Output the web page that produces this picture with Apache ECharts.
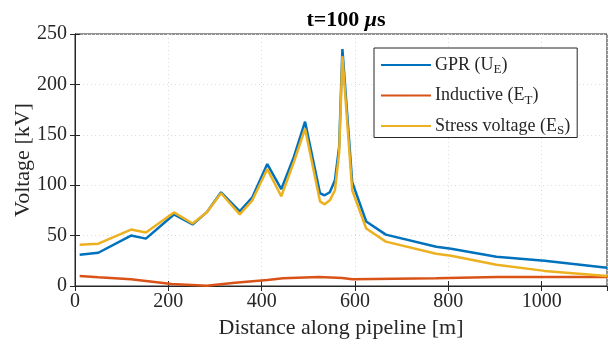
<!DOCTYPE html>
<html>
<head>
<meta charset="utf-8">
<script src="https://cdn.jsdelivr.net/npm/echarts@6/dist/echarts.min.js"></script>
<style>
  html, body { margin: 0; padding: 0; background: #fff; }
  #chart { width: 608px; height: 347px; }
</style>
</head>
<body>
<div id="chart"></div>
<script>
// distance along pipeline [m] for GPR and stress voltage
const distance = [10, 50, 120, 152, 212, 252, 282, 313, 353, 380, 412, 442, 469, 493, 525, 535, 546, 557, 566, 573, 594, 624, 666, 774, 806, 903, 1006, 1140];
const gpr = [31, 33, 50, 47, 71, 61, 73, 93, 74, 88, 121, 96, 128, 163, 92, 90, 93, 105, 138, 235, 103, 64, 51, 39, 37, 29, 25, 18];
const stress = [41, 42, 56, 53, 73, 62, 73, 92, 71, 85, 116, 89, 123, 156, 84, 81, 85, 95, 132, 228, 95, 57, 44, 32, 30, 21, 15, 10];
// inductive has its own sample points
const distanceInd = [10, 50, 120, 207, 282, 343, 412, 446, 523, 573, 594, 774, 903, 1140];
const inductive = [10, 8.6, 6.6, 2, 0.3, 3.3, 6, 7.6, 9, 8, 6.6, 7.6, 9, 9];

const FONT = '"Liberation Serif", "DejaVu Serif", serif';
const INK = '#262626';

const pairs = (xs, ys) => xs.map((x, i) => [x, ys[i]]);

const sub = {fontFamily: FONT, fontSize: 13, color: INK, padding: [10, 0, 0, 0]};

const chart = echarts.init(document.getElementById('chart'));

const gridLine = {show: true, lineStyle: {color: '#dcdcdc', type: [1, 3], width: 1}};

chart.setOption({
  animation: false,
  backgroundColor: '#fff',
  title: {
    text: 't=100 {i|μ}s',
    left: 341,
    textAlign: 'center',
    top: 4,
    textStyle: {
      fontFamily: FONT, fontSize: 22, fontWeight: 'bold', color: '#000',
      rich: {i: {fontFamily: FONT, fontSize: 22, fontWeight: 'bold', fontStyle: 'italic', color: '#000'}}
    }
  },
  grid: {left: 75, right: 1, top: 34, bottom: 61, show: true, borderColor: INK, borderWidth: 1,
    outerBoundsMode: 'none'},
  legend: {
    orient: 'vertical',
    left: 374,
    top: 48,
    padding: [8, 7, 0, 6],
    itemGap: 10,
    itemWidth: 50,
    itemHeight: 2,
    borderColor: INK,
    borderWidth: 1,
    backgroundColor: '#fff',
    data: ['gpr', 'ind', 'stress'],
    formatter: name => ({
      gpr: 'GPR (U{s|E})',
      ind: 'Inductive (E{s|T})',
      stress: 'Stress voltage (E{s|S})'
    })[name],
    textStyle: {fontFamily: FONT, fontSize: 18, color: INK, padding: [0, 0, 0, -1], rich: {s: sub}}
  },
  xAxis: [{
    type: 'value',
    min: 0,
    max: 1140,
    interval: 200,
    name: 'Distance along pipeline [m]',
    nameLocation: 'middle',
    nameGap: 31,
    nameMoveOverlap: false,
    nameTextStyle: {fontFamily: FONT, fontSize: 22, color: INK},
    axisLine: {show: true, lineStyle: {color: INK}},
    axisTick: {show: true, inside: true, length: 5, lineStyle: {color: INK}},
    axisLabel: {fontFamily: FONT, fontSize: 20, color: INK, margin: 6, showMaxLabel: false,
      formatter: v => String(v)},
    splitLine: gridLine
  }, {
    type: 'value', position: 'top', min: 0, max: 1140, interval: 200,
    axisLine: {show: true, lineStyle: {color: INK}},
    axisTick: {show: true, inside: true, length: 5, lineStyle: {color: INK}},
    axisLabel: {show: false}, splitLine: {show: false}
  }],
  yAxis: [{
    type: 'value',
    min: 0,
    max: 250,
    interval: 50,
    name: 'Voltage [kV]',
    nameLocation: 'middle',
    nameGap: 41,
    nameMoveOverlap: false,
    nameTextStyle: {fontFamily: FONT, fontSize: 22, color: INK},
    axisLine: {show: true, lineStyle: {color: INK}},
    axisTick: {show: true, inside: true, length: 5, lineStyle: {color: INK}},
    axisLabel: {fontFamily: FONT, fontSize: 20, color: INK, margin: 8},
    splitLine: gridLine
  }, {
    type: 'value', position: 'right', min: 0, max: 250, interval: 50,
    axisLine: {show: true, lineStyle: {color: INK}},
    axisTick: {show: true, inside: true, length: 5, lineStyle: {color: INK}},
    axisLabel: {show: false}, splitLine: {show: false}
  }],
  series: [
    {name: 'gpr', type: 'line', data: pairs(distance, gpr), symbol: 'none',
      lineStyle: {color: '#0072BD', width: 2.5}, itemStyle: {color: '#0072BD'}},
    {name: 'ind', type: 'line', data: pairs(distanceInd, inductive), symbol: 'none',
      lineStyle: {color: '#D95319', width: 2.5}, itemStyle: {color: '#D95319'}},
    {name: 'stress', type: 'line', data: pairs(distance, stress), symbol: 'none',
      lineStyle: {color: '#EDB120', width: 2.5}, itemStyle: {color: '#EDB120'}}
  ]
});
</script>
</body>
</html>
